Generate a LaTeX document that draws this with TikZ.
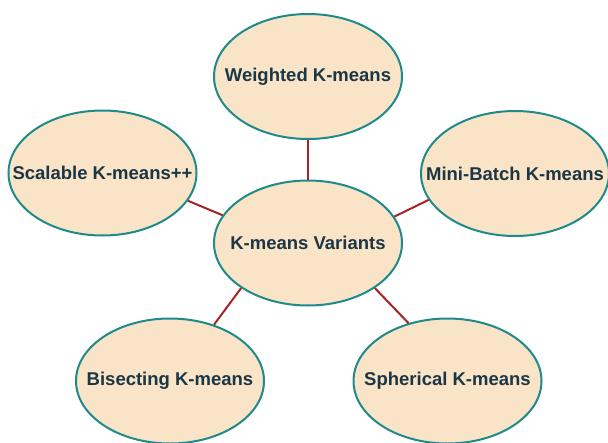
\documentclass[tikz,border=0pt]{standalone}
\usepackage{fontspec}
\setmainfont{Liberation Sans}
\usetikzlibrary{shapes.geometric}
\definecolor{bubblefill}{HTML}{F9E4C7}
\definecolor{bubbleedge}{HTML}{1E8A8A}
\definecolor{bubbletext}{HTML}{1B3645}
\definecolor{linkred}{HTML}{A82424}
% zero-width label box so the ellipse size comes from the minimum sizes alone
\newcommand{\bubbletext}[1]{\makebox[0pt]{#1}}
\begin{document}
\begin{tikzpicture}[x=1pt,y=-1pt,
  bubble/.style={ellipse, draw=bubbleedge, fill=bubblefill, line width=2pt,
    minimum width=188pt, minimum height=125pt, inner sep=0pt,
    text=bubbletext, font=\fontsize{18.5}{21}\selectfont\bfseries},
  link/.style={draw=linkred, line width=2pt}]
\useasboundingbox (0,0) rectangle (608,442);
% central topic and its five variants
\node[bubble] (hub) at (308,243) {\bubbletext{K-means Variants}};
\node[bubble] (weighted) at (308,76.5) {\bubbletext{Weighted K-means}};
\node[bubble] (scalable) at (102.5,173) {\bubbletext{Scalable K-means++}};
\node[bubble] (minibatch) at (515,173.5) {\bubbletext{Mini-Batch K-means}};
\node[bubble] (bisecting) at (170,381) {\bubbletext{Bisecting K-means}};
\node[bubble] (spherical) at (447.5,381) {\bubbletext{Spherical K-means}};
% spokes between border points of the bubbles
\draw[link] (hub.north) -- (weighted.south);
\draw[link] (hub.162.8) -- (scalable.342.5);
\draw[link] (hub.17.2) -- (minibatch.197.7);
\draw[link] (hub.214.7) -- (bisecting.52.5);
\draw[link] (hub.326.1) -- (spherical.124.7);
\end{tikzpicture}
\end{document}
